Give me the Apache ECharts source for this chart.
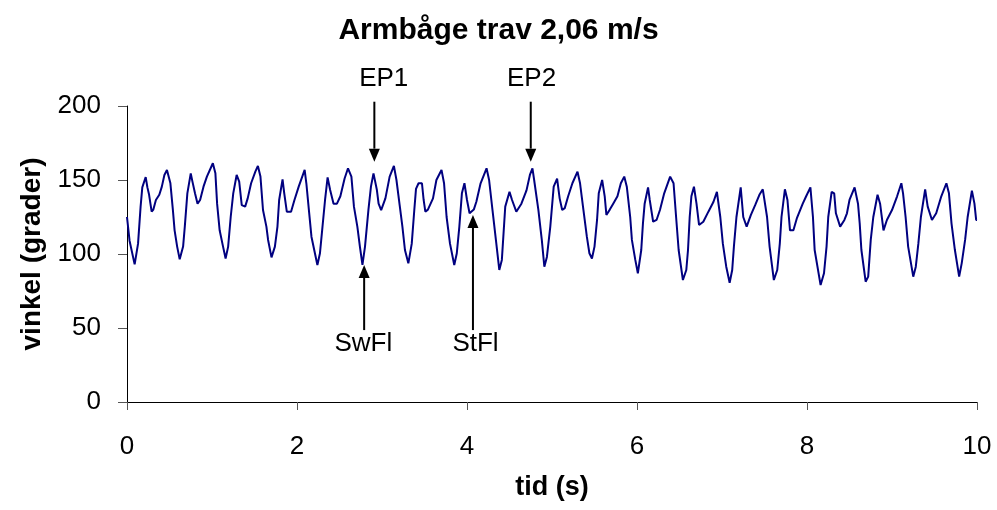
<!DOCTYPE html>
<html>
<head>
<meta charset="utf-8">
<script src="https://cdn.jsdelivr.net/npm/echarts@6/dist/echarts.min.js"></script>
<style>
  html, body { margin: 0; padding: 0; background: #fff; }
  #chart { width: 997px; height: 510px; }
</style>
</head>
<body>
<div id="chart"></div>
<script>
// tid (s) och vinkel (grader)
var tid = [
  0.00, 0.03, 0.09, 0.13, 0.16, 0.18, 0.22, 0.24, 0.26, 0.29, 0.31, 0.34, 0.38, 0.41, 0.44, 0.47,
  0.51, 0.54, 0.56, 0.59, 0.62, 0.66, 0.68, 0.71, 0.75, 0.77, 0.80, 0.83, 0.86, 0.90, 0.94, 1.01,
  1.04, 1.06, 1.09, 1.13, 1.16, 1.19, 1.22, 1.25, 1.29, 1.32, 1.35, 1.39, 1.42, 1.46, 1.51, 1.54,
  1.57, 1.60, 1.64, 1.66, 1.70, 1.74, 1.77, 1.79, 1.83, 1.85, 1.88, 1.93, 1.97, 2.02, 2.09, 2.11,
  2.14, 2.17, 2.24, 2.27, 2.30, 2.33, 2.36, 2.39, 2.43, 2.47, 2.51, 2.56, 2.60, 2.64, 2.67, 2.71,
  2.74, 2.77, 2.80, 2.84, 2.87, 2.90, 2.94, 2.96, 2.99, 3.04, 3.09, 3.14, 3.17, 3.21, 3.24, 3.27,
  3.31, 3.35, 3.38, 3.40, 3.43, 3.47, 3.49, 3.51, 3.54, 3.60, 3.64, 3.70, 3.73, 3.76, 3.80, 3.85,
  3.88, 3.91, 3.94, 3.97, 4.00, 4.03, 4.08, 4.11, 4.16, 4.23, 4.26, 4.30, 4.34, 4.38, 4.41, 4.43,
  4.45, 4.50, 4.53, 4.58, 4.64, 4.70, 4.74, 4.77, 4.79, 4.84, 4.88, 4.91, 4.94, 4.98, 5.02, 5.06,
  5.09, 5.12, 5.15, 5.19, 5.24, 5.30, 5.33, 5.37, 5.41, 5.44, 5.47, 5.50, 5.53, 5.55, 5.59, 5.62,
  5.64, 5.68, 5.72, 5.77, 5.81, 5.85, 5.88, 5.92, 5.94, 5.98, 6.01, 6.05, 6.07, 6.09, 6.13, 6.15,
  6.19, 6.23, 6.27, 6.32, 6.39, 6.43, 6.46, 6.49, 6.54, 6.58, 6.60, 6.62, 6.64, 6.67, 6.70, 6.73,
  6.78, 6.84, 6.90, 6.94, 6.98, 7.01, 7.05, 7.09, 7.12, 7.14, 7.17, 7.22, 7.25, 7.29, 7.34, 7.39,
  7.44, 7.48, 7.53, 7.56, 7.61, 7.65, 7.68, 7.70, 7.74, 7.77, 7.80, 7.84, 7.88, 7.95, 7.99, 8.04,
  8.07, 8.09, 8.16, 8.20, 8.23, 8.25, 8.29, 8.32, 8.34, 8.39, 8.44, 8.47, 8.50, 8.56, 8.60, 8.62,
  8.64, 8.69, 8.72, 8.75, 8.78, 8.83, 8.86, 8.90, 8.94, 9.00, 9.06, 9.11, 9.13, 9.16, 9.19, 9.25,
  9.28, 9.31, 9.34, 9.39, 9.42, 9.47, 9.52, 9.58, 9.64, 9.67, 9.70, 9.74, 9.79, 9.82, 9.86, 9.89,
  9.94, 9.97, 9.99, 10.00
];
var vinkel = [
  125, 109, 93, 107, 132, 145, 152, 145, 140, 128.6, 130, 136.5, 140, 145.5, 153.4, 156.8,
  148, 129.7, 116, 105, 96.4, 105, 118.5, 141, 154.5, 148.9, 141, 134, 136.5, 145.5, 152.3, 161.3,
  154.5, 134, 116, 105, 97, 105, 125, 141, 153.4, 148.9, 133, 132, 137.6, 147.8, 155.6, 159.5,
  152.3, 129.7, 118.5, 109.5, 97.7, 105, 118.5, 136.5, 150.4, 141, 128.6, 128.6, 136.5, 145.5, 156.8, 147.8,
  129.7, 111.7, 92.6, 100.5, 118.5, 136.5, 151.8, 143.2, 134, 134, 139, 151, 157.9, 152.3, 132, 118.5,
  105, 92.6, 105, 129.7, 145.5, 154.5, 143.2, 134, 129.7, 137.6, 152.3, 159.5, 150, 132, 118.5, 102.7,
  93.7, 107, 129.7, 144, 147.8, 147.8, 136.5, 128.6, 130, 137.6, 150, 156.8, 147.8, 125, 107, 92.6,
  100.5, 118.5, 141, 147.8, 136.5, 127.5, 130, 135.3, 147.8, 157.9, 150, 129.7, 109.5, 89.2, 96, 114,
  132, 142, 136.5, 128.6, 134, 143, 153.4, 157.9, 150, 129.7, 109.5, 91.4, 98, 118.5, 145.5, 151,
  137.6, 129.7, 131, 139, 147.8, 155.6, 147.8, 129.7, 111.7, 100.5, 97, 105, 123, 141, 150, 139,
  126.4, 130, 134, 139, 147.8, 152.3, 145.5, 125, 109.5, 96, 87, 102.7, 120.7, 134, 145, 136.5,
  121.8, 123, 129.7, 141, 152.3, 147.8, 125, 102.7, 82.4, 89.2, 102.7, 125, 139, 145.5, 134, 119.6,
  121.8, 128.6, 135.3, 142, 125, 107, 91.4, 80.6, 89.2, 105, 125, 145, 125, 118.5, 126.4, 133,
  140, 143.7, 125, 105, 82.4, 89.2, 107, 125, 143.7, 136.5, 116, 116, 124, 134, 139, 145,
  125, 102.7, 79, 87, 105, 125, 142, 141, 127.5, 118.5, 123, 127.5, 136.5, 145, 134, 120.7,
  102.7, 81.3, 84.7, 109.5, 125, 140, 134, 116, 123, 129.7, 139, 147.8, 141, 125, 105, 84.7,
  91.4, 107, 125, 143.7, 132, 123, 127.5, 139, 147.8, 141, 120.7, 102.7, 84.7, 93.7, 109.5, 125,
  142.8, 134, 123, 123
];

// pilar: text, pilens x, spets (y), svans (y), textens x och y
var pilText = ['EP1', 'EP2', 'SwFl', 'StFl'];
var pilX = [2.91, 4.75, 2.79, 4.07];
var pilSpets = [162.4, 162.4, 92.6, 126.4];
var pilSvans = [202.9, 202.9, 48.6, 48.6];
var textX = [3.02, 4.76, 2.78, 4.10];
var textY = [218.2, 218.2, 39.2, 39.2];

var xTicks = [0, 2, 4, 6, 8, 10];
var yTicks = [0, 50, 100, 150, 200];

var punkter = [];
for (var i = 0; i < tid.length; i++) {
  punkter.push([tid[i], vinkel[i]]);
}

var font = 'Liberation Sans, Arial, sans-serif';
var myChart = echarts.init(document.getElementById('chart'));

var option = {
  animation: false,
  backgroundColor: '#fff',
  title: {
    text: 'Armbåge trav 2,06 m/s',
    left: 'center',
    top: 11,
    textStyle: { fontFamily: font, fontSize: 30, fontWeight: 'bold', color: '#000' }
  },
  grid: { left: 127, right: 20, top: 106, bottom: 108 },
  xAxis: {
    type: 'value',
    min: xTicks[0],
    max: xTicks[xTicks.length - 1],
    interval: 2,
    name: 'tid (s)',
    nameLocation: 'middle',
    nameGap: 72,
    nameTextStyle: { fontFamily: font, fontSize: 27, fontWeight: 'bold', color: '#000' },
    axisLine: { lineStyle: { color: '#000', width: 1 } },
    axisTick: { length: 8, inside: false, lineStyle: { color: '#555' } },
    axisLabel: { margin: 32, fontFamily: font, fontSize: 26, color: '#000' },
    splitLine: { show: false }
  },
  yAxis: {
    type: 'value',
    min: yTicks[0],
    max: yTicks[yTicks.length - 1],
    interval: 50,
    name: 'vinkel (grader)',
    nameLocation: 'middle',
    nameGap: 78,
    nameTextStyle: { fontFamily: font, fontSize: 28, fontWeight: 'bold', color: '#000' },
    axisLine: { show: true, lineStyle: { color: '#000', width: 1 } },
    axisTick: { show: true, length: 9, lineStyle: { color: '#555' } },
    axisLabel: { margin: 26, fontFamily: font, fontSize: 26, color: '#000' },
    splitLine: { show: false }
  },
  series: [{
    type: 'line',
    data: punkter,
    symbol: 'none',
    clip: false,
    lineStyle: { color: '#000080', width: 2 }
  }]
};

myChart.setOption(option);

// pilar och texter räknas om från datakoordinater
var grafik = [];
for (var k = 0; k < pilText.length; k++) {
  var spets = myChart.convertToPixel({ gridIndex: 0 }, [pilX[k], pilSpets[k]]);
  var svans = myChart.convertToPixel({ gridIndex: 0 }, [pilX[k], pilSvans[k]]);
  var txt = myChart.convertToPixel({ gridIndex: 0 }, [textX[k], textY[k]]);
  var dir = svans[1] < spets[1] ? 1 : -1; // 1 = pil nedåt
  var bas = spets[1] - dir * 13;
  grafik.push({
    type: 'line',
    shape: { x1: svans[0], y1: svans[1], x2: spets[0], y2: bas },
    style: { stroke: '#000', lineWidth: 2 }
  });
  grafik.push({
    type: 'polygon',
    shape: { points: [[spets[0], spets[1]], [spets[0] - 5.5, bas], [spets[0] + 5.5, bas]] },
    style: { fill: '#000' }
  });
  grafik.push({
    type: 'text',
    x: txt[0],
    y: txt[1],
    style: {
      text: pilText[k],
      fontFamily: font,
      fontSize: 26,
      fill: '#000',
      align: 'center',
      verticalAlign: 'middle'
    }
  });
}
myChart.setOption({ graphic: grafik });
</script>
</body>
</html>
